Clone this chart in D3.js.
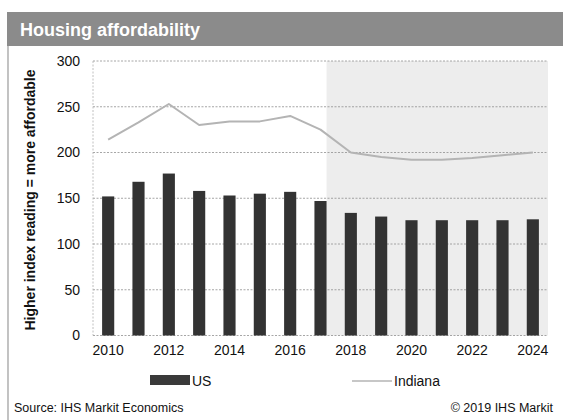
<!DOCTYPE html>
<html>
<head>
<meta charset="utf-8">
<script src="https://cdn.jsdelivr.net/npm/d3@7"></script>
<style>
  html, body { margin: 0; padding: 0; background: #fff; }
  svg { display: block; font-family: "Liberation Sans", Arial, sans-serif; }
</style>
</head>
<body>
<svg id="chart" width="563" height="420"></svg>
<script>
// Housing affordability index, US vs Indiana (2018 onward is forecast)
const years = ["2010","2011","2012","2013","2014","2015","2016","2017","2018","2019","2020","2021","2022","2023","2024"];
const usValues = [152, 168, 177, 158, 153, 155, 157, 147, 134, 130, 126, 126, 126, 126, 127];
const indianaValues = [214, 233, 253, 230, 234, 234, 240, 225, 200, 195, 192, 192, 194, 197, 200];
const yTicks = [0, 50, 100, 150, 200, 250, 300];
const xTickLabels = ["2010","2012","2014","2016","2018","2020","2022","2024"];
const forecastStart = "2017";

const svg = d3.select("#chart");

const plot = { left: 93, right: 548, top: 61, bottom: 335.5 };

const x = d3.scaleBand()
  .domain(years)
  .range([plot.left, plot.right])
  .paddingInner(0.6)
  .paddingOuter(0.3);

const y = d3.scaleLinear()
  .domain([0, 300])
  .range([plot.bottom, plot.top]);

// Title banner
svg.append("rect")
  .attr("x", 7).attr("y", 12)
  .attr("width", 556).attr("height", 34)
  .attr("fill", "#8b8b8b");
svg.append("text")
  .attr("x", 20).attr("y", 35.5)
  .attr("fill", "#fff")
  .attr("font-weight", "bold")
  .attr("font-size", 18)
  .text("Housing affordability");

// Left frame line
svg.append("line")
  .attr("x1", 8).attr("x2", 8)
  .attr("y1", 46).attr("y2", 420)
  .attr("stroke", "#9a9a9a").attr("stroke-width", 1.2);

// Forecast shading
svg.append("rect")
  .attr("x", x(forecastStart) + x.bandwidth())
  .attr("y", y(300))
  .attr("width", plot.right - (x(forecastStart) + x.bandwidth()))
  .attr("height", y(0) - y(300))
  .attr("fill", "#ededed");

// Gridlines
svg.append("g")
  .selectAll("line")
  .data(yTicks)
  .join("line")
  .attr("x1", plot.left).attr("x2", plot.right)
  .attr("y1", d => y(d)).attr("y2", d => y(d))
  .attr("stroke", "#8f8f8f")
  .attr("stroke-width", 0.8)
  .attr("stroke-dasharray", "2,1.5");

svg.append("line")
  .attr("x1", plot.left).attr("x2", plot.left)
  .attr("y1", y(300)).attr("y2", y(0))
  .attr("stroke", "#b0b0b0")
  .attr("stroke-width", 0.8)
  .attr("stroke-dasharray", "2,1.5");

// Y axis
const yAxis = svg.append("g")
  .attr("transform", `translate(${plot.left},0)`)
  .call(d3.axisLeft(y).tickValues(yTicks).tickSize(0).tickPadding(13));
yAxis.select(".domain").remove();
yAxis.selectAll("text")
  .attr("font-size", 14)
  .attr("font-family", "Liberation Sans, Arial, sans-serif")
  .attr("fill", "#111");

// X axis
const xAxis = svg.append("g")
  .attr("transform", `translate(0,${plot.bottom})`)
  .call(d3.axisBottom(x).tickValues(xTickLabels).tickSize(0).tickPadding(10));
xAxis.select(".domain").remove();
xAxis.selectAll("text")
  .attr("font-size", 14)
  .attr("font-family", "Liberation Sans, Arial, sans-serif")
  .attr("fill", "#111");

// Y axis title
svg.append("text")
  .attr("transform", "translate(35,200) rotate(-90)")
  .attr("text-anchor", "middle")
  .attr("font-size", 14)
  .attr("font-weight", "bold")
  .attr("fill", "#111")
  .text("Higher index reading = more affordable");

// US bars
svg.append("g")
  .selectAll("rect")
  .data(years.map((yr, i) => ({ yr, v: usValues[i] })))
  .join("rect")
  .attr("x", d => x(d.yr))
  .attr("y", d => y(d.v))
  .attr("width", x.bandwidth())
  .attr("height", d => y(0) - y(d.v))
  .attr("fill", "#333");

// Indiana line
const line = d3.line()
  .x(d => x(d.yr) + x.bandwidth() / 2)
  .y(d => y(d.v));
svg.append("path")
  .datum(years.map((yr, i) => ({ yr, v: indianaValues[i] })))
  .attr("d", line)
  .attr("fill", "none")
  .attr("stroke", "#b4b4b4")
  .attr("stroke-width", 2)
  .attr("stroke-linejoin", "round");

// Legend
const legend = svg.append("g");
legend.append("rect")
  .attr("x", 150).attr("y", 375)
  .attr("width", 40).attr("height", 10)
  .attr("fill", "#3a3a3a");
legend.append("text")
  .attr("x", 192).attr("y", 386)
  .attr("font-size", 14).attr("fill", "#111")
  .text("US");
legend.append("line")
  .attr("x1", 352).attr("x2", 392)
  .attr("y1", 381).attr("y2", 381)
  .attr("stroke", "#b4b4b4").attr("stroke-width", 1.5);
legend.append("text")
  .attr("x", 394).attr("y", 386)
  .attr("font-size", 14).attr("fill", "#111")
  .text("Indiana");

// Footer
svg.append("text")
  .attr("x", 14).attr("y", 412)
  .attr("font-size", 12.5).attr("fill", "#111")
  .text("Source: IHS Markit Economics");
svg.append("text")
  .attr("x", 553).attr("y", 412)
  .attr("text-anchor", "end")
  .attr("font-size", 12.5).attr("fill", "#111")
  .text("© 2019 IHS Markit");
</script>
</body>
</html>
